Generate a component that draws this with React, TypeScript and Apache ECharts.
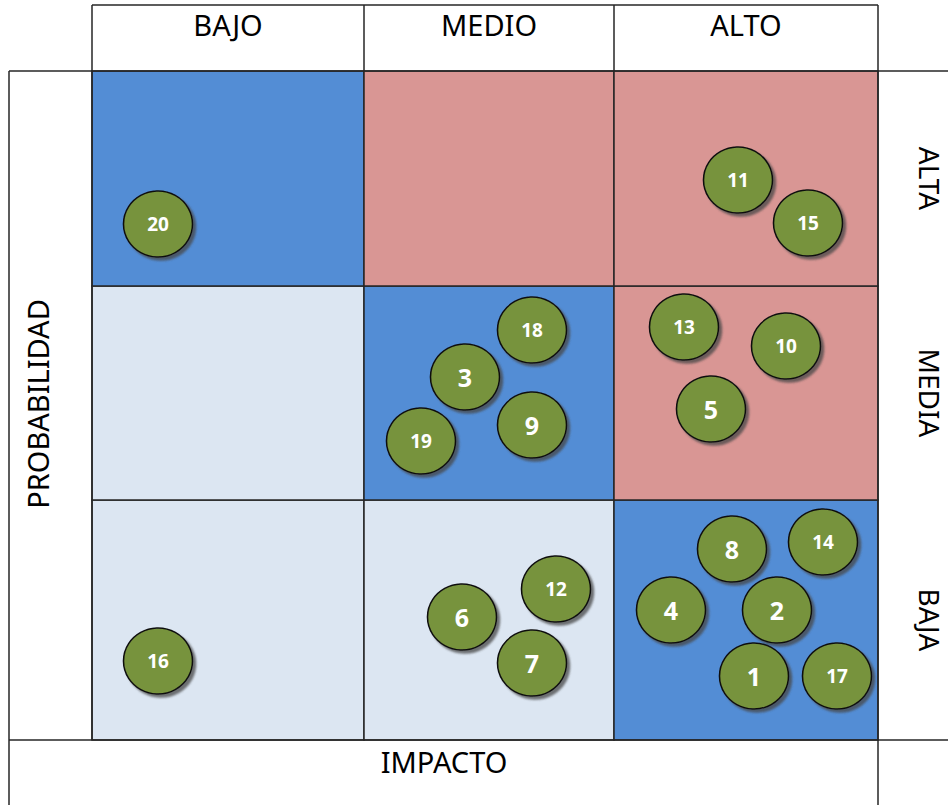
import React, { useEffect, useRef } from "react";
import * as echarts from "echarts";

// Impact columns (left to right) and probability rows (bottom to top)
const impactLevels = ["BAJO", "MEDIO", "ALTO"];
const probLevels = ["BAJA", "MEDIA", "ALTA"];
// Cell edges on the chart's own scale (units along each axis)
const colEdges = [0, 272, 522, 786];
const rowEdges = [0, 240, 454, 669];
// Cell zones: rows bottom to top, columns left to right
const zoneRows = [
  ["low", "low", "mid"],
  ["low", "mid", "high"],
  ["mid", "high", "high"],
];
const zoneColors: Record<string, string> = { low: "#DCE6F2", mid: "#538DD5", high: "#D99694" };

// Risks
const riskIds = [1, 2, 3, 4, 5, 6, 7, 8, 9, 10, 11, 12, 13, 14, 15, 16, 17, 18, 19, 20];
const riskImpact = [662, 685, 373, 579, 619, 370, 440, 640, 440, 694, 646, 464, 592, 731, 716, 66, 745, 440, 329, 66];
const riskProb = [64, 130, 363, 130, 331, 123, 77, 191, 315, 394, 560, 151, 413, 198, 517, 79, 64, 410, 299, 516];

const FONT = "'Noto Sans', 'DejaVu Sans', sans-serif";

export default function App() {
  const ref = useRef<HTMLDivElement>(null);
  useEffect(() => {
    if (!ref.current) return;
    const chart = echarts.init(ref.current, null, { renderer: "svg" });
    const W = 948, H = 805;
    const gl = 92, gr = 878, gt = 71, gb = 740;
    const xMax = colEdges[colEdges.length - 1];
    const yMax = rowEdges[rowEdges.length - 1];
    const px = (v: number) => gl + (v / xMax) * (gr - gl);
    const py = (v: number) => gb - (v / yMax) * (gb - gt);

    const areas: any[] = [];
    for (let r = 0; r < 3; r++) {
      for (let c = 0; c < 3; c++) {
        areas.push([
          {
            xAxis: colEdges[c],
            yAxis: rowEdges[r],
            itemStyle: { color: zoneColors[zoneRows[r][c]], borderColor: "#262626", borderWidth: 1.5, opacity: 1 },
          },
          { xAxis: colEdges[c + 1], yAxis: rowEdges[r + 1] },
        ]);
      }
    }

    const data = riskIds.map((id, i) => ({
      value: [riskImpact[i], riskProb[i]],
      name: String(id),
      label: { fontSize: String(id).length > 1 ? 19 : 25 },
    }));

    const lineStyle = { stroke: "#262626", lineWidth: 1.5 };
    const ln = (x1: number, y1: number, x2: number, y2: number) => ({
      type: "line",
      z: 50,
      shape: { x1, y1, x2, y2 },
      style: lineStyle,
    });
    const txt = (text: string, x: number, y: number, rotation = 0, size = 29) => ({
      type: "text",
      z: 50,
      x,
      y,
      rotation,
      style: {
        text,
        fill: "#000",
        font: `${size}px ${FONT}`,
        textAlign: "center",
        textVerticalAlign: "middle",
      },
    });

    const graphics: any[] = [
      ln(gl, 5, gr, 5),
      ln(gl, 5, gl, gb),
      ln(gr, 5, gr, H),
      ln(9, gt, W, gt),
      ln(9, gt, 9, H),
      ln(9, gb, W, gb),
    ];
    for (let c = 1; c < colEdges.length - 1; c++) {
      graphics.push(ln(px(colEdges[c]), 5, px(colEdges[c]), gt));
    }
    impactLevels.forEach((t, c) => {
      graphics.push(txt(t, px((colEdges[c] + colEdges[c + 1]) / 2), 24));
    });
    probLevels.forEach((t, r) => {
      graphics.push(txt(t, 930, py((rowEdges[r] + rowEdges[r + 1]) / 2), -Math.PI / 2, 28));
    });
    graphics.push(txt("IMPACTO", 444, 761));
    graphics.push(txt("PROBABILIDAD", 37, 404, Math.PI / 2));

    chart.setOption({
      animation: false,
      backgroundColor: "#fff",
      grid: { left: gl, right: W - gr, top: gt, bottom: H - gb },
      xAxis: { type: "value", min: 0, max: xMax, show: false },
      yAxis: { type: "value", min: 0, max: yMax, show: false },
      graphic: graphics,
      series: [
        {
          type: "scatter",
          symbol: "circle",
          symbolSize: [69, 66],
          data,
          itemStyle: {
            color: "#77933C",
            borderColor: "#111",
            borderWidth: 1.5,
            opacity: 1,
            shadowColor: "rgba(70,70,70,0.75)",
            shadowBlur: 2,
            shadowOffsetX: 3,
            shadowOffsetY: 3,
          },
          label: {
            show: true,
            position: "inside",
            formatter: "{b}",
            color: "#fff",
            fontWeight: "bold",
            fontFamily: FONT,
          },
          emphasis: { disabled: true },
          markArea: { silent: true, data: areas },
          z: 5,
        },
      ],
    });
    return () => chart.dispose();
  }, []);
  return <div ref={ref} style={{ position: "absolute", left: 0, top: 0, width: 948, height: 805 }} />;
}
